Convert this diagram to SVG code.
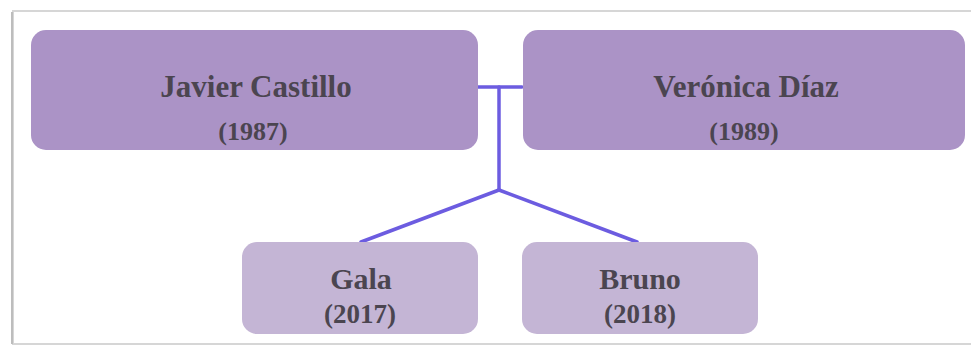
<svg xmlns="http://www.w3.org/2000/svg" width="971" height="349" viewBox="0 0 971 349">
<style>
.parent{fill:#ab93c6}
.child{fill:#c4b5d5}
.t{font-family:"Liberation Serif",serif;font-weight:bold;fill:#4b4550;text-anchor:middle}
.name{font-size:31px}
.yr{font-size:26px}
.cname{font-size:30px}
.cyr{font-size:27px}
.c{stroke:#6c5ce0;stroke-width:3.5;fill:none;stroke-linecap:round}
</style>
<rect x="0" y="0" width="971" height="349" fill="#ffffff"/>
<rect x="13" y="11" width="970" height="333" fill="#ffffff" stroke="#d6d6d6" stroke-width="2"/>
<line x1="12" y1="12" x2="12" y2="344" stroke="#bdbdbd" stroke-width="2"/>
<g id="connectors">
<path class="c" d="M475 87 H522"/>
<path class="c" d="M499 87 V190"/>
<path class="c" d="M499 190 L361 242"/>
<path class="c" d="M499 190 L637 242"/>
</g>
<g id="javier">
<rect class="parent" x="31" y="30" width="447" height="120" rx="15"/>
<text class="t name" x="256" y="97">Javier Castillo</text>
<text class="t yr" x="253" y="140">(1987)</text>
</g>
<g id="veronica">
<rect class="parent" x="523" y="30" width="442" height="120" rx="15"/>
<text class="t name" x="746" y="97">Verónica Díaz</text>
<text class="t yr" x="744" y="140">(1989)</text>
</g>
<g id="gala">
<rect class="child" x="242" y="242" width="236" height="92" rx="15"/>
<text class="t cname" x="361" y="289">Gala</text>
<text class="t cyr" x="360" y="323">(2017)</text>
</g>
<g id="bruno">
<rect class="child" x="522" y="242" width="236" height="92" rx="15"/>
<text class="t cname" x="640" y="289">Bruno</text>
<text class="t cyr" x="640" y="323">(2018)</text>
</g>
</svg>
